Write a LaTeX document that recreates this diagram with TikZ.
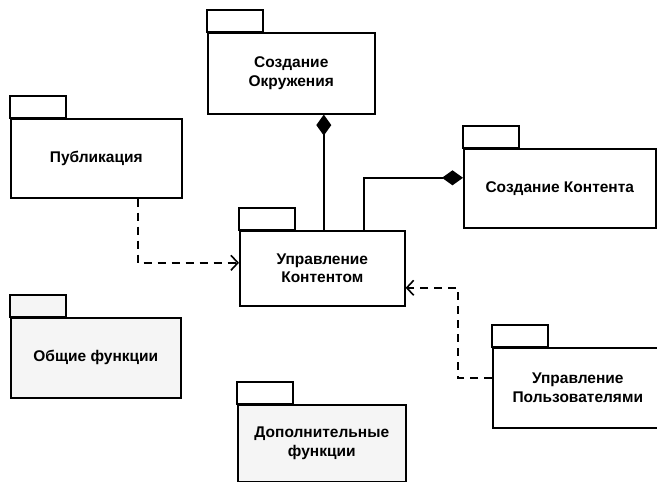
\documentclass[tikz,border=0pt]{standalone}
\usepackage{fontspec}
\setmainfont{Liberation Sans}
\usetikzlibrary{arrows.meta}

\begin{document}
\begin{tikzpicture}[x=1pt,y=-1pt,
  pkg/.style={draw,line width=1.6pt,anchor=north west,align=center,inner sep=0pt,
    font=\bfseries\fontsize{15.5}{18.5}\selectfont},
  grayfill/.style={fill=black!4},
  tab/.style={draw,line width=1.6pt},
  comp/.style={line width=1.6pt,arrows={Diamond[length=21pt,width=15pt]-}},
  dep/.style={line width=1.6pt,dash pattern=on 8pt off 6pt,
    arrows={-Straight Barb[length=7pt,width=15pt]}}]
  \useasboundingbox (0,0) rectangle (657,482);
  \clip (0,0) rectangle (657,482);
  \node[pkg,minimum width=167pt,minimum height=81pt] (okr) at (207,32) {Создание\\Окружения};
  \node[pkg,minimum width=171pt,minimum height=79pt] (pub) at (10,118) {Публикация};
  \node[pkg,minimum width=165pt,minimum height=75pt] (upr) at (239,230) {Управление\\Контентом};
  \node[pkg,minimum width=192pt,minimum height=79pt] (sk) at (463,148) {Создание Контента};
  \node[pkg,minimum width=170pt,minimum height=80pt] (up) at (492,347) {Управление\\Пользователями};
  \node[pkg,grayfill,minimum width=170pt,minimum height=80pt] (ob) at (10,317) {Общие функции};
  \node[pkg,grayfill,minimum width=168pt,minimum height=77pt] (dop) at (237,404) {Дополнительные\\функции};
  \foreach \n in {okr,pub,upr,sk,up,dop} {
    \draw[tab] (\n.north west) rectangle ++(56,-22);
  }
  \draw[tab,grayfill] (ob.north west) rectangle ++(56,-22);
  \draw[comp] ([xshift=1.5pt]upr.north |- okr.south) -- ([xshift=1.5pt]upr.north);
  \draw[comp] ([yshift=10.5pt]sk.west) -| ([xshift=41.5pt]upr.north);
  \draw[dep] ([xshift=41.5pt]pub.south) |- ([yshift=5.5pt]upr.west);
  \draw[dep] ([yshift=10pt]up.west) -- ++(-34,0) |- ([yshift=-19.5pt]upr.east);
\end{tikzpicture}
\end{document}
